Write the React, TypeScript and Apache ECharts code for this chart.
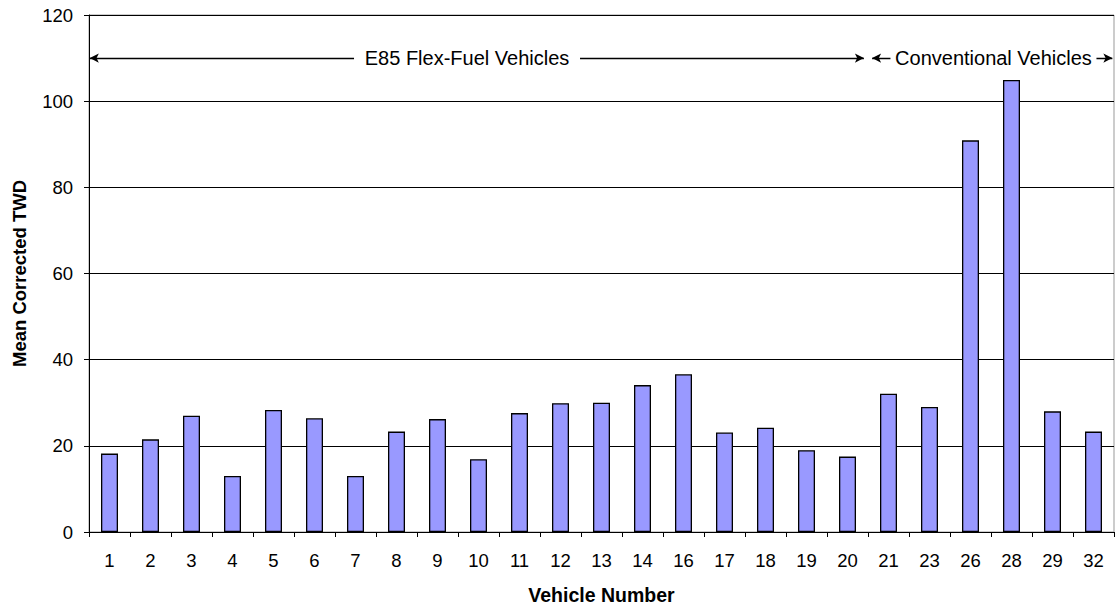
import React, { useEffect, useRef } from "react";
import * as echarts from "echarts";

const categories = ["1","2","3","4","5","6","7","8","9","10","11","12","13","14","16","17","18","19","20","21","23","26","28","29","32"];
const twdValues = [18.2,21.5,27.0,13.0,28.3,26.4,13.0,23.3,26.2,16.9,27.6,29.9,30.0,34.1,36.6,23.1,24.2,19.0,17.5,32.1,29.0,90.9,104.9,28.0,23.3];
const yTicks = { min: 0, max: 120, interval: 20 };
const groupLabels = ["E85 Flex-Fuel Vehicles", "Conventional Vehicles"];
// group spans in category-slot units: [start, end]
const groupSpans = [[0, 19], [19, 25]];
// label centres in category-slot units
const groupLabelCentres = [9.22, 22.06];
const groupY = 110;

export default function App() {
  const ref = useRef<HTMLDivElement>(null);
  useEffect(() => {
    document.body.style.margin = "0";
    const chart = echarts.init(ref.current!, null, { renderer: "svg" });
    const font = "Arial, 'Liberation Sans', sans-serif";
    chart.setOption({
      animation: false,
      backgroundColor: "#fff",
      grid: {
        left: 89, right: 5, top: 15, bottom: 78,
        show: true, borderColor: "#999", borderWidth: 1,
      },
      xAxis: [
        {
          type: "category",
          data: categories,
          axisLine: { lineStyle: { color: "#000", width: 1 } },
          axisTick: { show: true, length: 5, lineStyle: { color: "#000" } },
          axisLabel: { color: "#000", fontSize: 18.5, fontFamily: font, margin: 19 },
          name: "Vehicle Number",
          nameLocation: "middle",
          nameGap: 53,
          nameTextStyle: { color: "#000", fontSize: 19.5, fontWeight: "bold", fontFamily: font },
        },
        {
          type: "value", min: 0, max: 25, show: false,
        },
      ],
      yAxis: {
        type: "value",
        min: yTicks.min, max: yTicks.max, interval: yTicks.interval,
        axisLine: { show: true, lineStyle: { color: "#000", width: 1 } },
        axisTick: { show: true, length: 5, lineStyle: { color: "#000" } },
        axisLabel: { color: "#000", fontSize: 18.5, fontFamily: font, margin: 16 },
        splitLine: { lineStyle: { color: "#000", width: 1 } },
        name: "Mean Corrected TWD",
        nameLocation: "middle",
        nameGap: 60,
        nameTextStyle: { color: "#000", fontSize: 18.5, fontWeight: "bold", fontFamily: font },
      },
      series: [
        {
          type: "bar",
          data: twdValues,
          barWidth: 17,
          itemStyle: { color: "#9999FF", borderColor: "#000", borderWidth: 1.3 },
        },
        {
          type: "scatter",
          xAxisIndex: 1,
          data: [],
          silent: true,
          markLine: {
            silent: true,
            z: 3,
            symbol: ["arrow", "arrow"],
            symbolSize: [7, 9],
            lineStyle: { color: "#000", width: 1.3, type: "solid" },
            label: { show: false },
            data: groupSpans.map((s, i) => [
              { coord: [s[0] + (i === 0 ? 0.02 : 0.1), groupY] },
              { coord: [s[1] - (i === 0 ? 0.1 : 0.04), groupY] },
            ]),
          },
          markPoint: {
            silent: true,
            z: 10,
            symbol: "rect",
            data: groupLabels.map((name, i) => ({
              name,
              coord: [groupLabelCentres[i], groupY],
              symbolSize: i === 0 ? [226, 22] : [206, 22],
              itemStyle: { color: "#fff" },
              label: {
                show: true,
                position: "inside",
                color: "#000",
                fontSize: 20,
                fontFamily: font,
                formatter: (p: any) => p.name,
              },
            })),
          },
        },
      ],
    });
    return () => chart.dispose();
  }, []);
  return <div ref={ref} style={{ width: 1119, height: 610 }} />;
}
